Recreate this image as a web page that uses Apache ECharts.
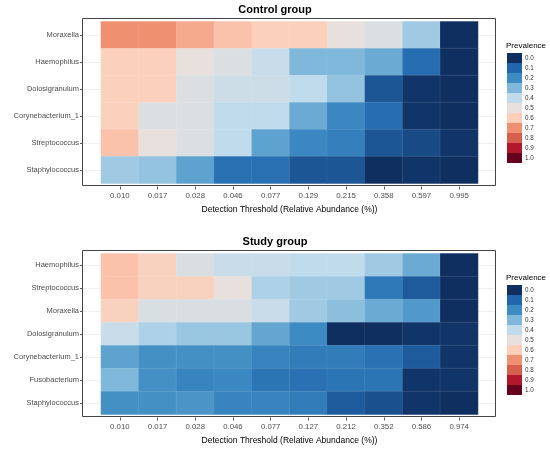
<!DOCTYPE html>
<html>
<head>
<meta charset="utf-8">
<title>Prevalence heatmaps</title>
<script src="https://cdn.jsdelivr.net/npm/echarts@6/dist/echarts.min.js"></script>
<style>
  html, body { margin: 0; padding: 0; background: #fff; }
  #chart { width: 550px; height: 451px; }
</style>
</head>
<body>
<div id="chart"></div>
<script>
// detection thresholds (x categories) for each panel
var thresholdsControl = ['0.010', '0.017', '0.028', '0.046', '0.077', '0.129', '0.215', '0.358', '0.597', '0.995'];
var thresholdsStudy = ['0.010', '0.017', '0.028', '0.046', '0.077', '0.127', '0.212', '0.352', '0.586', '0.974'];

// genera, top row first
var generaControl = ['Moraxella', 'Haemophilus', 'Dolosigranulum', 'Corynebacterium_1', 'Streptococcus', 'Staphylococcus'];
var generaStudy = ['Haemophilus', 'Streptococcus', 'Moraxella', 'Dolosigranulum', 'Corynebacterium_1', 'Fusobacterium', 'Staphylococcus'];

// prevalence, one row per genus
var prevMoraxellaC      = [0.70, 0.70, 0.66, 0.62, 0.59, 0.59, 0.50, 0.47, 0.35, 0.00];
var prevHaemophilusC    = [0.59, 0.59, 0.50, 0.47, 0.42, 0.30, 0.30, 0.27, 0.12, 0.00];
var prevDolosiC         = [0.59, 0.59, 0.47, 0.43, 0.43, 0.40, 0.33, 0.07, 0.01, 0.00];
var prevCoryneC         = [0.59, 0.47, 0.47, 0.40, 0.40, 0.27, 0.19, 0.12, 0.01, 0.00];
var prevStreptoC        = [0.62, 0.50, 0.47, 0.40, 0.25, 0.19, 0.17, 0.07, 0.05, 0.01];
var prevStaphC          = [0.35, 0.33, 0.25, 0.13, 0.13, 0.07, 0.07, 0.00, 0.01, 0.00];

var prevHaemophilusS    = [0.62, 0.58, 0.46, 0.42, 0.42, 0.40, 0.40, 0.35, 0.27, 0.00];
var prevStreptoS        = [0.62, 0.58, 0.58, 0.50, 0.37, 0.35, 0.35, 0.15, 0.08, 0.00];
var prevMoraxellaS      = [0.58, 0.46, 0.46, 0.46, 0.42, 0.35, 0.32, 0.27, 0.23, 0.00];
var prevDolosiS         = [0.42, 0.37, 0.34, 0.34, 0.26, 0.20, 0.00, 0.00, 0.01, 0.01];
var prevCoryneS         = [0.25, 0.21, 0.21, 0.21, 0.18, 0.16, 0.16, 0.13, 0.08, 0.01];
var prevFusoS           = [0.30, 0.21, 0.18, 0.19, 0.14, 0.13, 0.14, 0.14, 0.01, 0.01];
var prevStaphS          = [0.21, 0.21, 0.22, 0.18, 0.18, 0.16, 0.08, 0.06, 0.01, 0.00];

var rowsControl = [prevMoraxellaC, prevHaemophilusC, prevDolosiC, prevCoryneC, prevStreptoC, prevStaphC];
var rowsStudy = [prevHaemophilusS, prevStreptoS, prevMoraxellaS, prevDolosiS, prevCoryneS, prevFusoS, prevStaphS];

// legend keys and the colour stops behind them
var legendLabels = ['0.0', '0.1', '0.2', '0.3', '0.4', '0.5', '0.6', '0.7', '0.8', '0.9', '1.0'];
var legendColors = ['#0f2f60', '#2166ac', '#3d8bc3', '#7fb8da', '#c0dcec', '#e8e0dc',
                    '#fdcfb8', '#ef9070', '#d6604d', '#b2182b', '#67001f'];

var FONT = 'Liberation Sans, Arial, sans-serif';

// flatten rows into [x, y, value] triples for the heatmap
function toCells(rows) {
    var out = [];
    rows.forEach((row, y) => {
        row.forEach((v, x) => { out.push([x, y, v]); });
    });
    return out;
}

// panel geometry (tiles area and the frame around it)
var panels = [
    { top: 21.5, height: 162, boxTop: 19, boxH: 167, title: 'Control group', titleTop: 4, legTop: 53, legTitleTop: 42 },
    { top: 253.5, height: 161, boxTop: 251, boxH: 166, title: 'Study group', titleTop: 236, legTop: 285, legTitleTop: 273.5 }
];
var tileLeft = 101, tileW = 377, boxLeft = 83, boxW = 413;

var xCats = [thresholdsControl, thresholdsStudy];
var yCats = [generaControl, generaStudy];

var grids = [], xAxes = [], yAxes = [], series = [], titles = [], legends = [], graphics = [];

panels.forEach((p, i) => {
    grids.push({ left: tileLeft, top: p.top, width: tileW, height: p.height, outerBoundsMode: 'none', containLabel: false });

    xAxes.push({
        type: 'category', gridIndex: i, data: xCats[i], position: 'bottom', offset: 3,
        axisLine: { show: false },
        axisTick: { show: true, alignWithLabel: true, length: 3, lineStyle: { color: '#333', width: 0.8 } },
        axisLabel: { fontSize: 7.8, color: '#4d4d4d', margin: 5, fontFamily: FONT },
        splitLine: { show: false },
        name: 'Detection Threshold (Relative Abundance (%))', nameLocation: 'middle', nameGap: 19,
        nameTextStyle: { fontSize: 8.5, color: '#000', fontFamily: FONT }
    });

    // labelled axis on the left, moved out to the frame
    yAxes.push({
        type: 'category', gridIndex: i, data: yCats[i], inverse: true, position: 'left', offset: 18,
        axisLine: { show: false },
        axisTick: { show: true, alignWithLabel: true, length: 3, lineStyle: { color: '#333', width: 0.8 } },
        axisLabel: { fontSize: 7.5, color: '#4d4d4d', margin: 4, fontFamily: FONT },
        splitLine: { show: false },
        name: 'Genus', nameLocation: 'middle', nameGap: 67, nameRotate: 90,
        nameTextStyle: { fontSize: 8.5, color: '#000', fontFamily: FONT }
    });
    // faint grid lines in the left and right margins of the panel
    yAxes.push({
        type: 'category', gridIndex: i, data: yCats[i], inverse: true, position: 'left', offset: 18,
        axisLine: { show: false }, axisLabel: { show: false }, splitLine: { show: false },
        axisTick: { show: true, inside: true, alignWithLabel: true, length: 18, lineStyle: { color: '#ebebeb', width: 0.8 } }
    });
    yAxes.push({
        type: 'category', gridIndex: i, data: yCats[i], inverse: true, position: 'right', offset: 18,
        axisLine: { show: false }, axisLabel: { show: false }, splitLine: { show: false },
        axisTick: { show: true, inside: true, alignWithLabel: true, length: 18, lineStyle: { color: '#ebebeb', width: 0.8 } }
    });

    series.push({
        type: 'heatmap', name: p.title, xAxisIndex: i, yAxisIndex: i * 3,
        data: toCells(i === 0 ? rowsControl : rowsStudy),
        itemStyle: { borderColor: 'rgba(255,255,255,0.12)', borderWidth: 0.6 },
        emphasis: { disabled: true }
    });

    titles.push({
        text: p.title, left: 'center', top: p.titleTop, padding: 0,
        textStyle: { fontSize: 11, fontWeight: 'bold', color: '#000', fontFamily: FONT }
    });
    titles.push({
        text: 'Prevalence', left: 506, top: p.legTitleTop, padding: 0,
        textStyle: { fontSize: 8, fontWeight: 'normal', color: '#000', fontFamily: FONT }
    });

    legends.push({
        data: legendLabels.map((l) => ({ name: l, icon: 'rect' })),
        orient: 'vertical', left: 507, top: p.legTop, padding: 0,
        itemWidth: 15, itemHeight: 10, itemGap: 0,
        selectedMode: false,
        textStyle: { fontSize: 6.3, color: '#333', fontFamily: FONT, padding: [0, 0, 0, -2] }
    });

    // panel frame
    graphics.push({
        type: 'rect', z: 100, silent: true,
        shape: { x: boxLeft - 0.5, y: p.boxTop - 0.5, width: boxW, height: p.boxH },
        style: { fill: 'none', stroke: '#444', lineWidth: 1 }
    });
});

// dummy series so the legend gets one key per prevalence level
legendLabels.forEach((l, k) => {
    series.push({ type: 'scatter', name: l, xAxisIndex: 0, yAxisIndex: 0, data: [],
                  itemStyle: { color: legendColors[k], opacity: 1 } });
});

var chart = echarts.init(document.getElementById('chart'), null, { renderer: 'canvas' });
chart.setOption({
    animation: false,
    backgroundColor: '#fff',
    title: titles,
    grid: grids,
    xAxis: xAxes,
    yAxis: yAxes,
    legend: legends,
    visualMap: {
        type: 'continuous', show: false, min: 0, max: 1,
        seriesIndex: [0, 1], dimension: 2,
        inRange: { color: legendColors }
    },
    graphic: graphics,
    series: series
});
</script>
</body>
</html>
